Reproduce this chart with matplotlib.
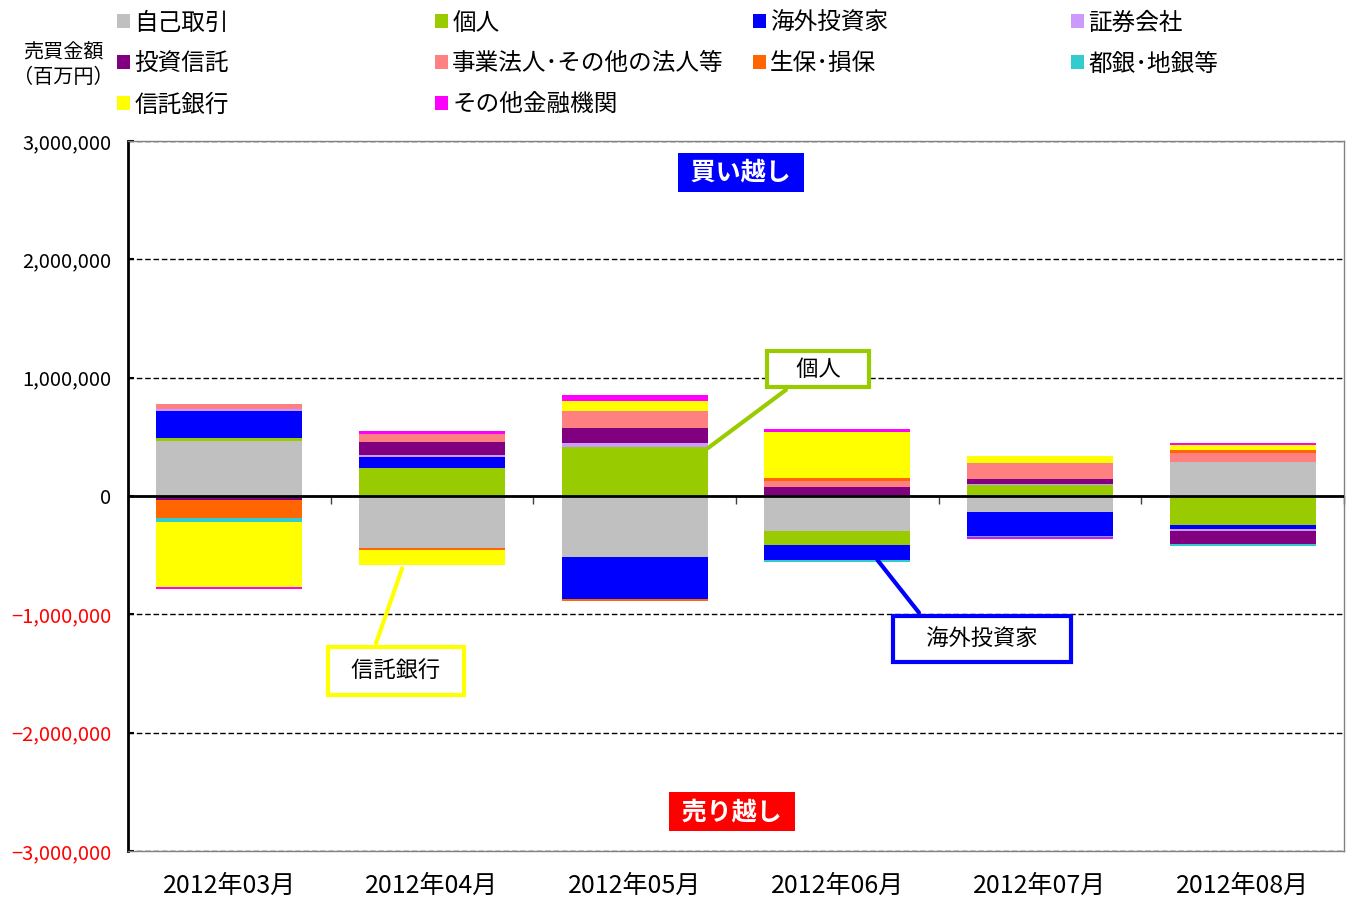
import numpy as np
import matplotlib
matplotlib.use('Agg')
import matplotlib.pyplot as plt
from matplotlib.patches import Patch

plt.rcParams['font.family'] = ['Noto Sans CJK JP', 'DejaVu Sans']

# 月
months = ['2012年03月', '2012年04月', '2012年05月', '2012年06月', '2012年07月', '2012年08月']

# 投資部門別 売買差額（百万円）
jiko     = [465000, -442000, -513000, -299000, -132000, 287000]    # 自己取引
kojin    = [23000, 240000, 411000, -113000, 90000, -248000]        # 個人
kaigai   = [231000, 90000, -358000, -132000, -206000, -31000]      # 海外投資家
shoken   = [14000, 14000, 34000, 0, 10000, -17000]                 # 証券会社
toshin   = [-34000, 113000, 130000, 76000, 45000, -113000]         # 投資信託
jigyo    = [48000, 68000, 144000, 48000, 135000, 79000]            # 事業法人・その他の法人等
seiho    = [-155000, -14000, -20000, 25000, 0, 20000]              # 生保・損保
togin    = [-31000, 0, 0, -17000, -12000, -17000]                  # 都銀・地銀等
shintaku = [-552000, -130000, 85000, 394000, 54000, 45000]         # 信託銀行
sonota   = [-14000, 23000, 48000, 20000, -12000, 17000]            # その他金融機関

series = [
    ('自己取引', jiko, '#C0C0C0'),
    ('個人', kojin, '#99CC00'),
    ('海外投資家', kaigai, '#0000FF'),
    ('証券会社', shoken, '#CC99FF'),
    ('投資信託', toshin, '#800080'),
    ('事業法人･その他の法人等', jigyo, '#FF8080'),
    ('生保･損保', seiho, '#FF6600'),
    ('都銀･地銀等', togin, '#33CCCC'),
    ('信託銀行', shintaku, '#FFFF00'),
    ('その他金融機関', sonota, '#FF00FF'),
]

fig = plt.figure(figsize=(13.49, 8.99), dpi=100)
ax = fig.add_axes([128 / 1349, 1 - 851 / 899, (1344 - 128) / 1349, (851 - 141) / 899])

x = np.arange(len(months))
pos_bottom = np.zeros(len(months))
neg_bottom = np.zeros(len(months))
for name, vals, color in series:
    v = np.array(vals, dtype=float)
    b = np.where(v >= 0, pos_bottom, neg_bottom)
    ax.bar(x, v, bottom=b, width=0.72, color=color, zorder=3)
    pos_bottom += np.clip(v, 0, None)
    neg_bottom += np.clip(v, None, 0)

# 軸
ax.set_xlim(-0.5, len(months) - 0.5)
ax.set_ylim(-3000000, 3000000)
yt = np.arange(-3000000, 3000001, 1000000)
ax.set_yticks(yt)
labels = []
for v in yt:
    s = '{:,}'.format(abs(v))
    labels.append('−' + s if v < 0 else s)
ax.set_yticklabels(labels, fontsize=14.5)
for lab, v in zip(ax.get_yticklabels(), yt):
    lab.set_color('red' if v < 0 else 'black')
ax.tick_params(axis='y', length=4, direction='in', pad=12, width=1.5)

ax.set_xticks(x)
ax.set_xticklabels(months, fontsize=18)
ax.tick_params(axis='x', length=0, pad=16)

ax.grid(axis='y', color='black', linestyle=(0, (4, 2)), linewidth=1, zorder=1)
for sp in ['top', 'right', 'bottom']:
    ax.spines[sp].set_color('#808080')
    ax.spines[sp].set_linewidth(1)
ax.spines['left'].set_color('black')
ax.spines['left'].set_linewidth(2)

# ゼロの横軸
ax.axhline(0, color='black', linewidth=2, zorder=5)
sec = ax.secondary_xaxis(0.5)
sec.set_xticks(np.arange(-0.5, len(months), 1.0))
sec.set_xticklabels([])
sec.tick_params(axis='x', direction='in', length=6, width=1, color='#404040')
sec.spines['bottom'].set_visible(False)

# 買い越し / 売り越し
ax.text(2.525, 2738000, ' 買い越し ', color='white', fontsize=18, fontweight='bold',
        ha='center', va='center', zorder=6,
        bbox=dict(boxstyle='square,pad=0.3', facecolor='#0000FF', edgecolor='none'))
ax.text(2.48, -2670000, ' 売り越し ', color='white', fontsize=18, fontweight='bold',
        ha='center', va='center', zorder=6,
        bbox=dict(boxstyle='square,pad=0.3', facecolor='#FF0000', edgecolor='none'))

# 吹き出し
ax.annotate('　個人　', xy=(2.35, 390000), xytext=(2.905, 1073000), fontsize=16,
            ha='center', va='center', zorder=6,
            bbox=dict(boxstyle='square,pad=0.28', facecolor='white', edgecolor='#99CC00', linewidth=3),
            arrowprops=dict(arrowstyle='-', color='#99CC00', linewidth=3, relpos=(0.28, 0)))
ax.annotate('\u2002信託銀行\u2002', xy=(0.857, -590000), xytext=(0.822, -1479000), fontsize=16,
            ha='center', va='center', zorder=6,
            bbox=dict(boxstyle='square,pad=0.55', facecolor='white', edgecolor='#FFFF00', linewidth=3),
            arrowprops=dict(arrowstyle='-', color='#FFFF00', linewidth=3, relpos=(0.27, 1)))
ax.annotate('　海外投資家　', xy=(3.19, -524000), xytext=(3.714, -1208000), fontsize=16,
            ha='center', va='center', zorder=6,
            bbox=dict(boxstyle='square,pad=0.5', facecolor='white', edgecolor='#0000FF', linewidth=3),
            arrowprops=dict(arrowstyle='-', color='#0000FF', linewidth=3, relpos=(0.17, 1)))

# 凡例（行方向の並び）
col_x = [100, 418, 736, 1054]
columns = [[0, 4, 8], [1, 5, 9], [2, 6], [3, 7]]
for cx, idx in zip(col_x, columns):
    handles = [Patch(facecolor=series[i][2], edgecolor='none') for i in idx]
    names = [series[i][0] for i in idx]
    fig.legend(handles, names, loc='upper left', bbox_to_anchor=(cx / 1349, 1 + 5 / 899),
               frameon=False, fontsize=17, handlelength=0.55, handleheight=0.55,
               handletextpad=0.2, labelspacing=0.76, borderpad=0.2)

fig.text(63 / 1349, 1 - 65.5 / 899, '売買金額\n（百万円）', fontsize=14.5, ha='center', va='center',
         linespacing=1.2)

fig.savefig('out.png', dpi=100)
